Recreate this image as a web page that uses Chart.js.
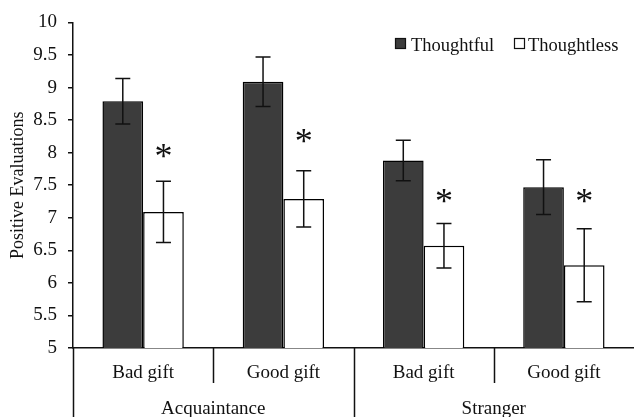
<!DOCTYPE html>
<html>
<head>
<meta charset="utf-8">
<script src="https://cdn.jsdelivr.net/npm/chart.js@4.4.1/dist/chart.umd.min.js"></script>
<style>
  html, body { margin: 0; padding: 0; background: #fff; }
  #wrap { width: 634px; height: 417px; }
</style>
</head>
<body>
<div id="wrap"><canvas id="gifts" width="634" height="417"></canvas></div>
<script>
/* data */
const categories = ["Bad gift", "Good gift", "Bad gift", "Good gift"];
const groups = ["Acquaintance", "Stranger"];
const seriesNames = ["Thoughtful", "Thoughtless"];
const thoughtful = [8.79, 9.09, 7.88, 7.47];
const thoughtless = [7.09, 7.29, 6.57, 6.27];
const thoughtfulErr = [0.35, 0.38, 0.31, 0.42];
const thoughtlessErr = [0.47, 0.43, 0.34, 0.56];
// centre of the "*" marks (in axis units)
const starValues = [8.02, 8.26, 7.34, 7.34];
const yTicks = [5, 5.5, 6, 6.5, 7, 7.5, 8, 8.5, 9, 9.5, 10];

const SERIF = "'Liberation Serif', 'Times New Roman', serif";
const INK = "#111";
const DARK = "#3c3c3c";

const errors = [thoughtfulErr, thoughtlessErr];

/* ================================
   error bars, stars, axis labels, legend
================================ */
const extras = {
  id: "extras",
  afterDatasetsDraw(chart) {
    const ctx = chart.ctx;
    const y = chart.scales.y;
    const x = chart.scales.x;
    const area = chart.chartArea;

    ctx.save();
    ctx.strokeStyle = INK;
    ctx.lineWidth = 1.5;

    // error bars
    chart.data.datasets.forEach(function (ds, d) {
      const meta = chart.getDatasetMeta(d);
      meta.data.forEach(function (bar, i) {
        const v = ds.data[i];
        const e = errors[d][i];
        const top = y.getPixelForValue(v + e);
        const bot = y.getPixelForValue(v - e);
        ctx.beginPath();
        ctx.moveTo(bar.x, top);
        ctx.lineTo(bar.x, bot);
        ctx.moveTo(bar.x - 7.5, top);
        ctx.lineTo(bar.x + 7.5, top);
        ctx.moveTo(bar.x - 7.5, bot);
        ctx.lineTo(bar.x + 7.5, bot);
        ctx.stroke();
      });
    });

    // stars over the thoughtless bars, centred on their value
    const lessMeta = chart.getDatasetMeta(1);
    ctx.fillStyle = INK;
    ctx.font = "36px " + SERIF;
    ctx.textAlign = "center";
    ctx.textBaseline = "alphabetic";
    const m = ctx.measureText("*");
    const shift = (m.actualBoundingBoxAscent - m.actualBoundingBoxDescent) / 2;
    lessMeta.data.forEach(function (bar, i) {
      ctx.fillText("*", bar.x, y.getPixelForValue(starValues[i]) + shift);
    });

    // category / group labels with separators
    const n = categories.length;
    const step = (area.right - area.left) / n;
    ctx.font = "19px " + SERIF;
    ctx.textBaseline = "middle";
    categories.forEach(function (c, i) {
      ctx.fillText(c, x.getPixelForValue(i), 373);
    });
    groups.forEach(function (g, k) {
      const cx = (x.getPixelForValue(2 * k) + x.getPixelForValue(2 * k + 1)) / 2;
      ctx.fillText(g, cx, 409);
    });
    ctx.beginPath();
    for (let k = 0; k < n; k++) {
      const sx = Math.round(area.left + k * step) + 0.5;
      ctx.moveTo(sx, area.bottom);
      ctx.lineTo(sx, k % 2 === 0 ? chart.height : 383);
    }
    ctx.stroke();

    // legend
    const items = [
      { label: seriesNames[0], fill: DARK, bx: 395, tx: 411 },
      { label: seriesNames[1], fill: "#fff", bx: 514, tx: 528 }
    ];
    ctx.font = "18.5px " + SERIF;
    ctx.textAlign = "left";
    ctx.textBaseline = "alphabetic";
    ctx.lineWidth = 1.2;
    items.forEach(function (it) {
      ctx.fillStyle = it.fill;
      ctx.fillRect(it.bx, 38, 11, 11);
      ctx.strokeRect(it.bx + 0.5, 38.5, 10, 10);
      ctx.fillStyle = INK;
      ctx.fillText(it.label, it.tx, 51);
    });

    ctx.restore();
  }
};

new Chart(document.getElementById("gifts").getContext("2d"), {
  type: "bar",
  plugins: [extras],
  data: {
    labels: categories,
    datasets: [
      {
        label: seriesNames[0],
        data: thoughtful,
        backgroundColor: DARK,
        borderColor: "#000",
        borderWidth: 1.5
      },
      {
        label: seriesNames[1],
        data: thoughtless,
        backgroundColor: "#fff",
        borderColor: "#000",
        borderWidth: 1.5
      }
    ]
  },
  options: {
    responsive: false,
    animation: false,
    devicePixelRatio: 1,
    layout: { padding: { top: 16, right: 0, left: 0, bottom: 0 } },
    datasets: {
      bar: { categoryPercentage: 0.58, barPercentage: 1 }
    },
    plugins: {
      legend: { display: false },
      tooltip: { enabled: false }
    },
    scales: {
      x: {
        grid: { display: false },
        border: { display: true, color: INK, width: 1.5 },
        ticks: { display: false },
        afterFit: function (s) { s.height = 69; }
      },
      y: {
        min: 5,
        max: 10,
        afterBuildTicks: function (s) {
          s.ticks = yTicks.map(function (v) { return { value: v }; });
        },
        afterFit: function (s) { s.width = 73; },
        grid: { drawOnChartArea: false, drawTicks: true, tickLength: 5, color: INK, lineWidth: 1.5 },
        border: { display: true, color: INK, width: 1.5 },
        ticks: {
          color: INK,
          padding: 11,
          font: { family: SERIF, size: 19 },
          callback: function (v) { return String(v); }
        },
        title: {
          display: true,
          text: "Positive Evaluations",
          color: INK,
          font: { family: SERIF, size: 18 },
          padding: { top: 7, bottom: 0 }
        }
      }
    }
  }
});
</script>
</body>
</html>
